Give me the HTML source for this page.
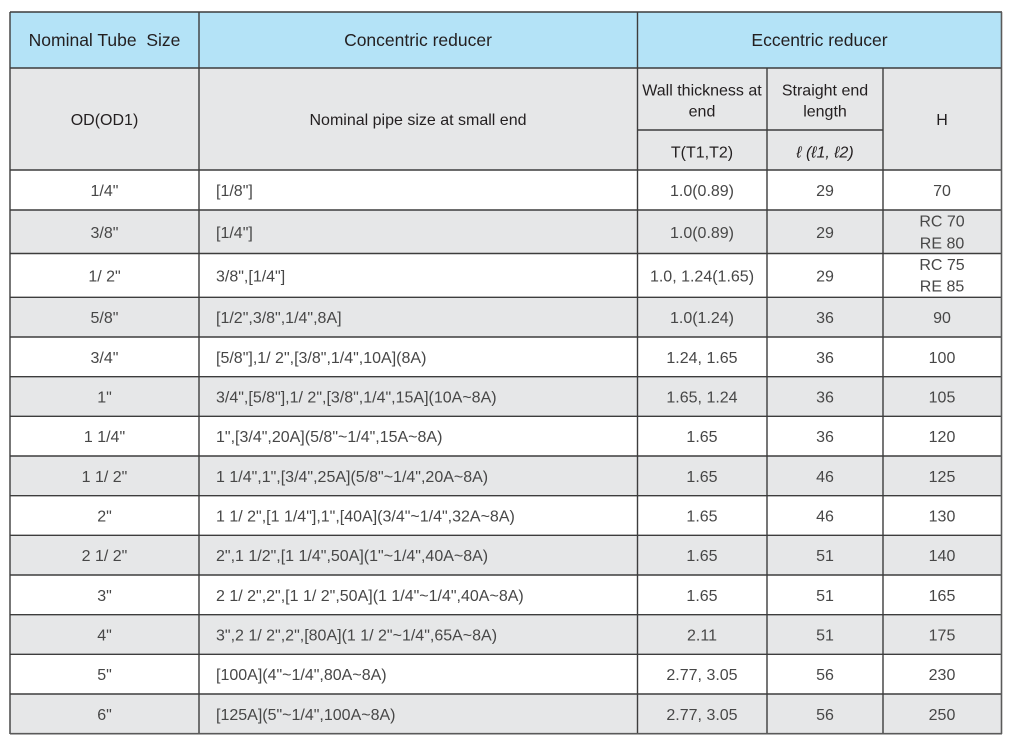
<!DOCTYPE html>
<html>
<head>
<meta charset="utf-8">
<style>
  html,body{margin:0;padding:0;background:#fff;}
  svg{display:block;}
  text{font-family:"Liberation Sans",Arial,sans-serif;}
  .h1{font-size:17.5px;fill:#231f20;}
  .h2{font-size:16px;fill:#231f20;}
  .b{font-size:16px;fill:#474747;}
</style>
</head>
<body>
<svg width="1013" height="747" viewBox="0 0 1013 747" xmlns="http://www.w3.org/2000/svg">
  <!-- backgrounds -->
  <rect x="10" y="12" width="992" height="56" fill="#b4e3f7"/>
  <rect x="10" y="68" width="992" height="102" fill="#e6e7e8"/>
  <!-- data rows -->
  <rect x="10" y="170" width="992" height="40" fill="#ffffff"/>
  <rect x="10" y="210" width="992" height="43.5" fill="#e6e7e8"/>
  <rect x="10" y="253.5" width="992" height="43.8" fill="#ffffff"/>
  <rect x="10" y="297.3" width="992" height="39.7" fill="#e6e7e8"/>
  <rect x="10" y="337" width="992" height="39.7" fill="#ffffff"/>
  <rect x="10" y="376.7" width="992" height="39.6" fill="#e6e7e8"/>
  <rect x="10" y="416.3" width="992" height="39.7" fill="#ffffff"/>
  <rect x="10" y="456" width="992" height="39.7" fill="#e6e7e8"/>
  <rect x="10" y="495.7" width="992" height="39.6" fill="#ffffff"/>
  <rect x="10" y="535.3" width="992" height="39.7" fill="#e6e7e8"/>
  <rect x="10" y="575" width="992" height="39.7" fill="#ffffff"/>
  <rect x="10" y="614.7" width="992" height="39.6" fill="#e6e7e8"/>
  <rect x="10" y="654.3" width="992" height="39.7" fill="#ffffff"/>
  <rect x="10" y="694" width="992" height="39.7" fill="#e6e7e8"/>

  <!-- grid lines -->
  <g stroke="#3d3d3d" stroke-width="1.4" fill="none">
    <line x1="10" y1="12" x2="1002" y2="12"/>
    <line x1="10" y1="68" x2="1002" y2="68"/>
    <line x1="637.5" y1="130" x2="883" y2="130"/>
    <line x1="10" y1="170" x2="1002" y2="170"/>
    <line x1="10" y1="210" x2="1002" y2="210"/>
    <line x1="10" y1="253.5" x2="1002" y2="253.5"/>
    <line x1="10" y1="297.3" x2="1002" y2="297.3"/>
    <line x1="10" y1="337" x2="1002" y2="337"/>
    <line x1="10" y1="376.7" x2="1002" y2="376.7"/>
    <line x1="10" y1="416.3" x2="1002" y2="416.3"/>
    <line x1="10" y1="456" x2="1002" y2="456"/>
    <line x1="10" y1="495.7" x2="1002" y2="495.7"/>
    <line x1="10" y1="535.3" x2="1002" y2="535.3"/>
    <line x1="10" y1="575" x2="1002" y2="575"/>
    <line x1="10" y1="614.7" x2="1002" y2="614.7"/>
    <line x1="10" y1="654.3" x2="1002" y2="654.3"/>
    <line x1="10" y1="694" x2="1002" y2="694"/>
    <line x1="10" y1="12" x2="10" y2="734"/>
    <line x1="199" y1="12" x2="199" y2="734"/>
    <line x1="637.5" y1="12" x2="637.5" y2="734"/>
    <line x1="767" y1="68" x2="767" y2="734"/>
    <line x1="883" y1="68" x2="883" y2="734"/>
  </g>
  <g stroke="#5a5a5a" stroke-width="1.6" fill="none">
    <line x1="1001.5" y1="12" x2="1001.5" y2="734"/>
    <line x1="10" y1="733.7" x2="1002" y2="733.7"/>
  </g>

  <!-- header row 1 -->
  <text class="h1" x="104.5" y="46.2" text-anchor="middle">Nominal Tube&#160; Size</text>
  <text class="h1" x="418" y="46.2" text-anchor="middle">Concentric reducer</text>
  <text class="h1" x="819.5" y="46.2" text-anchor="middle">Eccentric reducer</text>

  <!-- header row 2 -->
  <text class="h2" x="104.5" y="125" text-anchor="middle">OD(OD1)</text>
  <text class="h2" x="418" y="125" text-anchor="middle">Nominal pipe size at small end</text>
  <text class="h2" x="702" y="95.7" text-anchor="middle">Wall thickness at</text>
  <text class="h2" x="702" y="116.7" text-anchor="middle">end</text>
  <text class="h2" x="825" y="95.7" text-anchor="middle">Straight end</text>
  <text class="h2" x="825" y="116.7" text-anchor="middle">length</text>
  <text class="h2" x="942" y="125" text-anchor="middle">H</text>
  <text class="h2" x="702" y="157.5" text-anchor="middle">T(T1,T2)</text>
  <text class="h2" x="825" y="157.5" text-anchor="middle" font-style="italic">ℓ (ℓ1, ℓ2)</text>

  <!-- data -->
  <g class="b">
    <text class="b" x="104.5" y="196" text-anchor="middle">1/4"</text>
    <text class="b" x="216" y="196">[1/8"]</text>
    <text class="b" x="702" y="196" text-anchor="middle">1.0(0.89)</text>
    <text class="b" x="825" y="196" text-anchor="middle">29</text>
    <text class="b" x="942" y="196" text-anchor="middle">70</text>

    <text class="b" x="104.5" y="238" text-anchor="middle">3/8"</text>
    <text class="b" x="216" y="238">[1/4"]</text>
    <text class="b" x="702" y="238" text-anchor="middle">1.0(0.89)</text>
    <text class="b" x="825" y="238" text-anchor="middle">29</text>
    <text class="b" x="942" y="226.7" text-anchor="middle">RC 70</text>
    <text class="b" x="942" y="248.3" text-anchor="middle">RE 80</text>

    <text class="b" x="104.5" y="281.5" text-anchor="middle">1/ 2"</text>
    <text class="b" x="216" y="281.5">3/8",[1/4"]</text>
    <text class="b" x="702" y="281.5" text-anchor="middle">1.0, 1.24(1.65)</text>
    <text class="b" x="825" y="281.5" text-anchor="middle">29</text>
    <text class="b" x="942" y="270" text-anchor="middle">RC 75</text>
    <text class="b" x="942" y="291.7" text-anchor="middle">RE 85</text>

    <text class="b" x="104.5" y="323.2" text-anchor="middle">5/8"</text>
    <text class="b" x="216" y="323.2">[1/2",3/8",1/4",8A]</text>
    <text class="b" x="702" y="323.2" text-anchor="middle">1.0(1.24)</text>
    <text class="b" x="825" y="323.2" text-anchor="middle">36</text>
    <text class="b" x="942" y="323.2" text-anchor="middle">90</text>

    <text class="b" x="104.5" y="362.9" text-anchor="middle">3/4"</text>
    <text class="b" x="216" y="362.9">[5/8"],1/ 2",[3/8",1/4",10A](8A)</text>
    <text class="b" x="702" y="362.9" text-anchor="middle">1.24, 1.65</text>
    <text class="b" x="825" y="362.9" text-anchor="middle">36</text>
    <text class="b" x="942" y="362.9" text-anchor="middle">100</text>

    <text class="b" x="104.5" y="402.5" text-anchor="middle">1"</text>
    <text class="b" x="216" y="402.5">3/4",[5/8"],1/ 2",[3/8",1/4",15A](10A~8A)</text>
    <text class="b" x="702" y="402.5" text-anchor="middle">1.65, 1.24</text>
    <text class="b" x="825" y="402.5" text-anchor="middle">36</text>
    <text class="b" x="942" y="402.5" text-anchor="middle">105</text>

    <text class="b" x="104.5" y="442.2" text-anchor="middle">1 1/4"</text>
    <text class="b" x="216" y="442.2">1",[3/4",20A](5/8"~1/4",15A~8A)</text>
    <text class="b" x="702" y="442.2" text-anchor="middle">1.65</text>
    <text class="b" x="825" y="442.2" text-anchor="middle">36</text>
    <text class="b" x="942" y="442.2" text-anchor="middle">120</text>

    <text class="b" x="104.5" y="481.9" text-anchor="middle">1 1/ 2"</text>
    <text class="b" x="216" y="481.9">1 1/4",1",[3/4",25A](5/8"~1/4",20A~8A)</text>
    <text class="b" x="702" y="481.9" text-anchor="middle">1.65</text>
    <text class="b" x="825" y="481.9" text-anchor="middle">46</text>
    <text class="b" x="942" y="481.9" text-anchor="middle">125</text>

    <text class="b" x="104.5" y="521.5" text-anchor="middle">2"</text>
    <text class="b" x="216" y="521.5">1 1/ 2",[1 1/4"],1",[40A](3/4"~1/4",32A~8A)</text>
    <text class="b" x="702" y="521.5" text-anchor="middle">1.65</text>
    <text class="b" x="825" y="521.5" text-anchor="middle">46</text>
    <text class="b" x="942" y="521.5" text-anchor="middle">130</text>

    <text class="b" x="104.5" y="561.2" text-anchor="middle">2 1/ 2"</text>
    <text class="b" x="216" y="561.2">2",1 1/2",[1 1/4",50A](1"~1/4",40A~8A)</text>
    <text class="b" x="702" y="561.2" text-anchor="middle">1.65</text>
    <text class="b" x="825" y="561.2" text-anchor="middle">51</text>
    <text class="b" x="942" y="561.2" text-anchor="middle">140</text>

    <text class="b" x="104.5" y="600.9" text-anchor="middle">3"</text>
    <text class="b" x="216" y="600.9">2 1/ 2",2",[1 1/ 2",50A](1 1/4"~1/4",40A~8A)</text>
    <text class="b" x="702" y="600.9" text-anchor="middle">1.65</text>
    <text class="b" x="825" y="600.9" text-anchor="middle">51</text>
    <text class="b" x="942" y="600.9" text-anchor="middle">165</text>

    <text class="b" x="104.5" y="640.5" text-anchor="middle">4"</text>
    <text class="b" x="216" y="640.5">3",2 1/ 2",2",[80A](1 1/ 2"~1/4",65A~8A)</text>
    <text class="b" x="702" y="640.5" text-anchor="middle">2.11</text>
    <text class="b" x="825" y="640.5" text-anchor="middle">51</text>
    <text class="b" x="942" y="640.5" text-anchor="middle">175</text>

    <text class="b" x="104.5" y="680.2" text-anchor="middle">5"</text>
    <text class="b" x="216" y="680.2">[100A](4"~1/4",80A~8A)</text>
    <text class="b" x="702" y="680.2" text-anchor="middle">2.77, 3.05</text>
    <text class="b" x="825" y="680.2" text-anchor="middle">56</text>
    <text class="b" x="942" y="680.2" text-anchor="middle">230</text>

    <text class="b" x="104.5" y="719.9" text-anchor="middle">6"</text>
    <text class="b" x="216" y="719.9">[125A](5"~1/4",100A~8A)</text>
    <text class="b" x="702" y="719.9" text-anchor="middle">2.77, 3.05</text>
    <text class="b" x="825" y="719.9" text-anchor="middle">56</text>
    <text class="b" x="942" y="719.9" text-anchor="middle">250</text>
  </g>
</svg>
</body>
</html>
